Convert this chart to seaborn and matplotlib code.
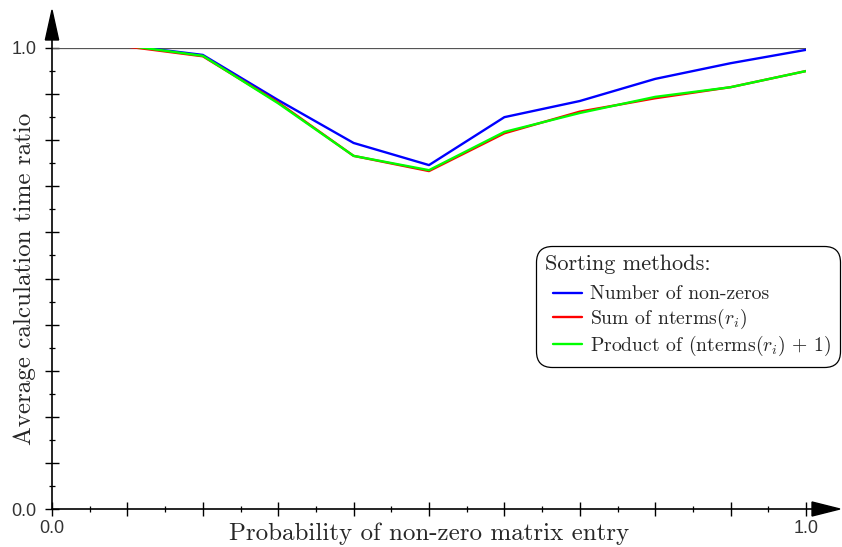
import numpy as np
import pandas as pd
import matplotlib
matplotlib.use('Agg')
import matplotlib.pyplot as plt
from matplotlib.patches import Polygon
from matplotlib.ticker import MultipleLocator, FixedLocator, FixedFormatter
import seaborn as sns

# data
prob = [0.1, 0.2, 0.3, 0.4, 0.5, 0.6, 0.7, 0.8, 0.9, 1.0]
nonzeros = [1.005, 0.985, 0.887, 0.794, 0.746, 0.850, 0.885, 0.933, 0.967, 0.996]
sum_nterms = [1.003, 0.982, 0.882, 0.766, 0.733, 0.815, 0.862, 0.891, 0.915, 0.950]
prod_nterms = [1.005, 0.983, 0.880, 0.766, 0.735, 0.818, 0.859, 0.894, 0.915, 0.950]

methods = ["Number of non-zeros",
           r"Sum of $\mathrm{nterms}(r_i)$",
           r"Product of $(\mathrm{nterms}(r_i)\,+\,1)$"]
colors = ["#0000ff", "#ff0000", "#00ff00"]

df = pd.DataFrame({
    "p": prob * 3,
    "ratio": nonzeros + sum_nterms + prod_nterms,
    "method": [methods[0]] * 10 + [methods[1]] * 10 + [methods[2]] * 10,
})

sns.set_style("white")
plt.rcParams["mathtext.fontset"] = "cm"
plt.rcParams["axes.formatter.use_mathtext"] = True

fig = plt.figure(figsize=(8.42, 5.47), dpi=100)
ax = fig.add_axes([52 / 842, 38 / 547, 754 / 842, 461 / 547])

# reference line at 1.0
ax.axhline(1.0, color="#555555", lw=0.9, zorder=1)

sns.lineplot(data=df, x="p", y="ratio", hue="method", palette=colors,
             linewidth=1.7, ax=ax, legend=True, zorder=3)

ax.set_xlim(0, 1)
ax.set_ylim(0, 1)

# axes with arrows
for s in ax.spines.values():
    s.set_visible(False)
ax.plot([0, 1.01], [0, 0], color="black", lw=1.2, transform=ax.transAxes, clip_on=False)
ax.plot([0, 0], [0, 1.02], color="black", lw=1.2, transform=ax.transAxes, clip_on=False)
ax.add_patch(Polygon([[1.008, 0.0152], [1.045, 0], [1.008, -0.0152]], closed=True,
                     color="black", transform=ax.transAxes, clip_on=False))
ax.add_patch(Polygon([[-0.0088, 1.0174], [0, 1.0824], [0.0088, 1.0174]], closed=True,
                     color="black", transform=ax.transAxes, clip_on=False))

# ticks: major every 0.1, minor every 0.05, labels only at ends
ticks = [round(0.1 * i, 1) for i in range(11)]
labels = ["0.0"] + [""] * 9 + ["1.0"]
ax.xaxis.set_major_locator(FixedLocator(ticks))
ax.xaxis.set_major_formatter(FixedFormatter(labels))
ax.yaxis.set_major_locator(FixedLocator(ticks))
ax.yaxis.set_major_formatter(FixedFormatter(labels))
ax.xaxis.set_minor_locator(MultipleLocator(0.05))
ax.yaxis.set_minor_locator(MultipleLocator(0.05))
ax.tick_params(which="major", direction="inout", length=10, width=1.0, color="black",
               bottom=True, left=True, labelsize=13, labelcolor="#333333")
ax.tick_params(axis="x", which="major", pad=3)
ax.tick_params(axis="y", which="major", pad=6)
ax.tick_params(which="minor", direction="inout", length=5, width=0.9, color="black",
               bottom=True, left=True)
for t in ax.get_xticklabels() + ax.get_yticklabels():
    t.set_fontfamily("Liberation Sans")

ax.set_xlabel("Probability of non-zero matrix entry", fontfamily="cmr10", fontsize=18)
ax.xaxis.set_label_coords(0.5, -0.03)
ax.set_ylabel("Average calculation time ratio", fontfamily="cmr10", fontsize=18)
ax.yaxis.set_label_coords(-0.021, 0.5)

leg = ax.legend(title="Sorting methods:", loc="upper left",
                bbox_to_anchor=(539 / 842, 1 - 249 / 547), bbox_transform=fig.transFigure,
                borderaxespad=0, frameon=True, fancybox=True, alignment="left",
                prop={"family": "cmr10", "size": 14.2}, title_fontproperties={"family": "cmr10", "size": 16},
                handlelength=1.9, handletextpad=0.4, labelspacing=0.15, borderpad=0.3)
leg._legend_box.sep = 8  # extra gap below the title
leg.get_frame().set_edgecolor("black")
leg.get_frame().set_linewidth(0.9)
leg.get_frame().set_alpha(1)
leg.get_frame().set_boxstyle("round,pad=0.15,rounding_size=0.8")
# indent legend handles a little relative to the title
for line in leg.get_lines():
    line.set_linewidth(1.7)
    xd = np.asarray(line.get_xdata(), dtype=float)
    line.set_xdata(np.linspace(xd[0] + 6, xd[-1], len(xd)))

fig.savefig("out.png", dpi=100)
